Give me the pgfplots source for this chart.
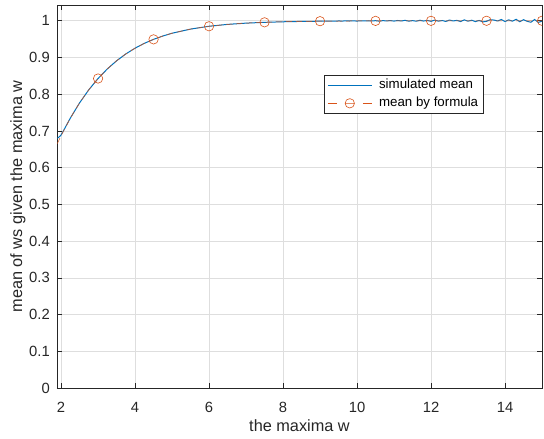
\documentclass[border=0pt]{standalone}
\usepackage{fontspec}
\setmainfont{Liberation Sans}
\usepackage{pgfplots}
\pgfplotsset{compat=1.18}
\definecolor{matblue}{HTML}{0072BD}
\definecolor{matorange}{HTML}{D95319}
\definecolor{maxis}{rgb}{0.15,0.15,0.15}
\definecolor{mgrid}{rgb}{0.87,0.87,0.87}
\begin{document}
\begin{tikzpicture}
\begin{axis}[
  scale only axis, width=485pt, height=383pt,
  xmin=1.89, xmax=15, ymin=0, ymax=1.043,
  xtick={2,4,...,14}, ytick={0,0.1,...,1},
  yticklabels={0,0.1,0.2,0.3,0.4,0.5,0.6,0.7,0.8,0.9,1},
  /pgf/number format/assume math mode=true,
  tick align=inside, major tick length=5pt,
  axis line style={maxis, line width=0.6pt},
  major tick style={maxis, line width=0.6pt},
  grid=major, major grid style={mgrid, line width=0.6pt},
  ticklabel style={font=\fontsize{14.8}{16}\selectfont, text=maxis},
  xticklabel style={inner sep=0pt, yshift=-14pt},
  yticklabel style={inner sep=0pt, xshift=-7pt},
  xlabel={the maxima w}, ylabel={mean of ws given the maxima w},
  every axis x label/.style={at={([yshift=-38pt]axis description cs:0.5,0)}, anchor=center,
    font=\fontsize{16.3}{18}\selectfont, text=maxis},
  every axis y label/.style={at={([xshift=-39pt]axis description cs:0,0.5)}, anchor=center, rotate=90,
    font=\fontsize{16.3}{18}\selectfont, text=maxis},
  clip marker paths=true,
  legend style={at={(axis description cs:0.5505,0.8172)}, anchor=north west,
    draw=maxis, line width=0.6pt, fill=white, inner xsep=3pt, inner ysep=2pt,
    font=\fontsize{13.3}{15}\selectfont,
    nodes={inner sep=2pt, text height=9.5pt, text depth=2.5pt}, row sep=2pt},
  legend cell align=left,
]
% simulated mean
\addplot[draw=matblue, line width=1pt, forget plot] coordinates {
(1.9,0.680)(1.95,0.684)(2.0,0.689)(2.1,0.707)(2.25,0.7349)(2.5,0.7764)(2.75,0.8122)
(3.0,0.8428)(3.25,0.8689)(3.5,0.8910)(3.75,0.9097)(4.0,0.9254)(4.25,0.9385)(4.5,0.9494)
(4.75,0.9585)(5.0,0.9661)(5.5,0.9774)(6.0,0.9851)(6.5,0.9902)(7.0,0.9936)(7.5,0.9958)
(8.0,0.9973)(8.5,0.9983)
(9.0,0.9989)(9.1,0.9992)(9.2,0.9990)(9.3,0.9994)(9.4,0.9991)(9.5,0.9995)(9.6,0.9993)
(9.7,0.9997)(9.8,0.9994)(9.9,0.9996)(10.0,0.9993)(10.1,0.9998)(10.2,0.9995)(10.3,1.0001)
(10.4,0.9994)(10.5,1.0003)(10.6,0.9990)(10.7,1.0004)(10.8,0.9996)(10.9,1.0006)(11.0,0.9992)
(11.1,1.0008)(11.2,0.9995)(11.3,1.0012)(11.4,0.9990)(11.5,1.0005)(11.6,0.9988)(11.7,1.0015)
(11.8,0.9993)(11.9,1.0010)(12.0,0.9985)(12.1,1.0018)(12.2,0.9990)(12.3,1.0008)(12.4,0.9982)
(12.5,1.0020)(12.6,0.9995)(12.7,1.0012)(12.8,0.9980)(12.9,1.0025)(13.0,0.9990)(13.1,1.0015)
(13.2,0.9978)(13.3,1.0010)(13.4,0.9970)(13.5,0.9985)(13.6,1.0030)(13.7,1.0020)(13.8,0.9995)
(13.9,1.0035)(14.0,0.9980)(14.1,1.0025)(14.2,0.9990)(14.3,1.0040)(14.4,0.9975)(14.5,1.0030)
(14.6,0.9985)(14.7,0.9960)(14.8,1.0035)(14.9,0.9955)(15.0,0.9990)};
\addlegendimage{legend image code/.code={\draw[draw=matblue, line width=1pt] (0pt,0pt) -- (44pt,0pt); \path (49pt,0pt);}}
\addlegendentry{simulated mean}
% mean by formula (dashed line)
\addplot[draw=matorange, line width=0.5pt, dash pattern=on 6pt off 4pt, forget plot] coordinates {
(1.9,0.6658)(2.0,0.6870)(2.25,0.7349)(2.5,0.7764)(2.75,0.8122)(3.0,0.8428)(3.25,0.8689)
(3.5,0.8910)(3.75,0.9097)(4.0,0.9254)(4.25,0.9385)(4.5,0.9494)(4.75,0.9585)(5.0,0.9661)
(5.5,0.9774)(6.0,0.9851)(6.5,0.9902)(7.0,0.9936)(7.5,0.9958)(8.0,0.9973)(8.5,0.9983)
(9.0,0.9989)(9.5,0.9993)(10.0,0.9995)(11.0,0.9998)(12.0,0.9999)(13.5,1.0)(15.0,1.0)};
% mean by formula (markers)
\addplot[draw=matorange, only marks, mark=o, mark size=4.7pt, mark options={draw=matorange, line width=0.6pt}, forget plot] coordinates {
(3.0,0.8428)(4.5,0.9494)(6.0,0.9851)(7.5,0.9958)(9.0,0.9989)(10.5,0.9997)(12.0,0.9999)(13.5,1.0)(15.0,1.0)};
\addlegendimage{legend image code/.code={\draw[draw=matorange, line width=0.6pt] (0pt,0pt) -- (9pt,0pt) (35pt,0pt) -- (44pt,0pt); \draw[draw=matorange, line width=0.6pt] (22pt,0pt) circle (4.7pt) (17.3pt,0pt) -- (26.7pt,0pt); \path (49pt,0pt);}}
\addlegendentry{mean by formula}
\end{axis}
\pgfresetboundingbox
\path[use as bounding box] ([xshift=-57pt,yshift=-51pt]current axis.south west) rectangle ([xshift=2pt,yshift=5pt]current axis.north east);
\end{tikzpicture}
\end{document}
